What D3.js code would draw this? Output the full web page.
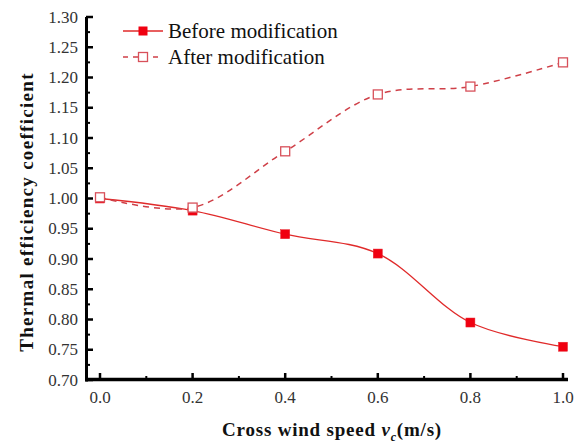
<!DOCTYPE html>
<html><head><meta charset="utf-8">
<script src="https://cdn.jsdelivr.net/npm/d3@7"></script>
<style>body{margin:0;background:#fff}svg{display:block}</style>
</head><body>
<script>
const speeds = [0.0, 0.2, 0.4, 0.6, 0.8, 1.0];
const before = [1.000, 0.980, 0.941, 0.909, 0.795, 0.755];
const after  = [1.002, 0.985, 1.078, 1.172, 1.185, 1.225];
const yTicks = [0.70,0.75,0.80,0.85,0.90,0.95,1.00,1.05,1.10,1.15,1.20,1.25,1.30];
const xTicks = [0.0,0.2,0.4,0.6,0.8,1.0];
const seriesNames = ["Before modification","After modification"];

const W=587,H=445;
const svg=d3.select("body").append("svg").attr("width",W).attr("height",H);
const x=d3.scaleLinear().domain([0,1]).range([100,563]);
const y=d3.scaleLinear().domain([0.70,1.30]).range([380,17]);
const font="'Liberation Serif','Times New Roman',serif";

// axes
const ax=svg.append("g");
ax.append("line").attr("x1",86.5).attr("x2",86.5).attr("y1",y(1.30)).attr("y2",381.5).attr("stroke","#000").attr("stroke-width",3);
ax.append("line").attr("x1",85).attr("x2",568).attr("y1",379.5).attr("y2",379.5).attr("stroke","#000").attr("stroke-width",3.5);
yTicks.forEach(v=>{
  ax.append("line").attr("x1",86).attr("x2",93).attr("y1",y(v)).attr("y2",y(v)).attr("stroke","#000").attr("stroke-width",2.5);
  ax.append("text").attr("x",78).attr("y",y(v)+5.5).attr("text-anchor","end").attr("font-family",font).attr("font-size",17).attr("fill","#333").text(v.toFixed(2));
});
d3.range(0.725,1.30,0.05).forEach(v=>{
  ax.append("line").attr("x1",86).attr("x2",90).attr("y1",y(v)).attr("y2",y(v)).attr("stroke","#000").attr("stroke-width",2);
});
xTicks.forEach(v=>{
  ax.append("line").attr("x1",x(v)).attr("x2",x(v)).attr("y1",380).attr("y2",373).attr("stroke","#000").attr("stroke-width",2.5);
  ax.append("text").attr("x",x(v)).attr("y",403).attr("text-anchor","middle").attr("font-family",font).attr("font-size",17).attr("fill","#333").text(v.toFixed(1));
});
[0.1,0.3,0.5,0.7,0.9].forEach(v=>{
  ax.append("line").attr("x1",x(v)).attr("x2",x(v)).attr("y1",380).attr("y2",376).attr("stroke","#000").attr("stroke-width",2);
});

// titles
svg.append("text").attr("transform","translate(33,212) rotate(-90)").attr("text-anchor","middle")
  .attr("font-family",font).attr("font-weight","bold").attr("font-size",19).attr("letter-spacing",1.3).attr("fill","#111").text("Thermal efficiency coefficient");
const xt=svg.append("text").attr("x",332).attr("y",436).attr("text-anchor","middle")
  .attr("font-family",font).attr("font-weight","bold").attr("font-size",19).attr("letter-spacing",0.8).attr("fill","#111");
xt.append("tspan").text("Cross wind speed ");
xt.append("tspan").attr("font-style","italic").text("v");
xt.append("tspan").attr("font-style","italic").attr("font-size",12).attr("dy",5).text("c");
xt.append("tspan").attr("dy",-5).text("(m/s)");

// lines
const line=d3.line().x(d=>x(d[0])).y(d=>y(d[1])).curve(d3.curveCatmullRom.alpha(0.5));
const bData=speeds.map((s,i)=>[s,before[i]]);
const aData=speeds.map((s,i)=>[s,after[i]]);
const red="#e02a2a", red2="#cf4048";
svg.append("path").attr("d",line(bData)).attr("fill","none").attr("stroke",red).attr("stroke-width",1.3);
svg.append("path").attr("d",line(aData)).attr("fill","none").attr("stroke",red2).attr("stroke-width",1.5).attr("stroke-dasharray","6,5");
const ms=9;
svg.selectAll(".b").data(bData).enter().append("rect").attr("x",d=>x(d[0])-ms/2).attr("y",d=>y(d[1])-ms/2)
  .attr("width",ms).attr("height",ms).attr("fill","#f00010").attr("stroke","#e8202a").attr("stroke-width",0.5);
svg.selectAll(".a").data(aData).enter().append("rect").attr("x",d=>x(d[0])-ms/2).attr("y",d=>y(d[1])-ms/2)
  .attr("width",ms).attr("height",ms).attr("fill","#fff").attr("stroke","#d8505a").attr("stroke-width",1.3);

// legend
const lg=svg.append("g");
lg.append("line").attr("x1",123).attr("x2",163).attr("y1",31).attr("y2",31).attr("stroke",red).attr("stroke-width",1.3);
lg.append("rect").attr("x",143-ms/2).attr("y",31-ms/2).attr("width",ms).attr("height",ms).attr("fill","#f00010");
lg.append("text").attr("x",168).attr("y",38).attr("font-family",font).attr("font-size",21).attr("fill","#111").text(seriesNames[0]);
lg.append("line").attr("x1",123).attr("x2",163).attr("y1",57).attr("y2",57).attr("stroke",red2).attr("stroke-width",1.5).attr("stroke-dasharray","5,5");
lg.append("rect").attr("x",143-ms/2).attr("y",57-ms/2).attr("width",ms).attr("height",ms).attr("fill","#fff").attr("stroke","#d8505a").attr("stroke-width",1.3);
lg.append("text").attr("x",168).attr("y",64).attr("font-family",font).attr("font-size",21).attr("fill","#111").text(seriesNames[1]);
</script>
</body></html>
